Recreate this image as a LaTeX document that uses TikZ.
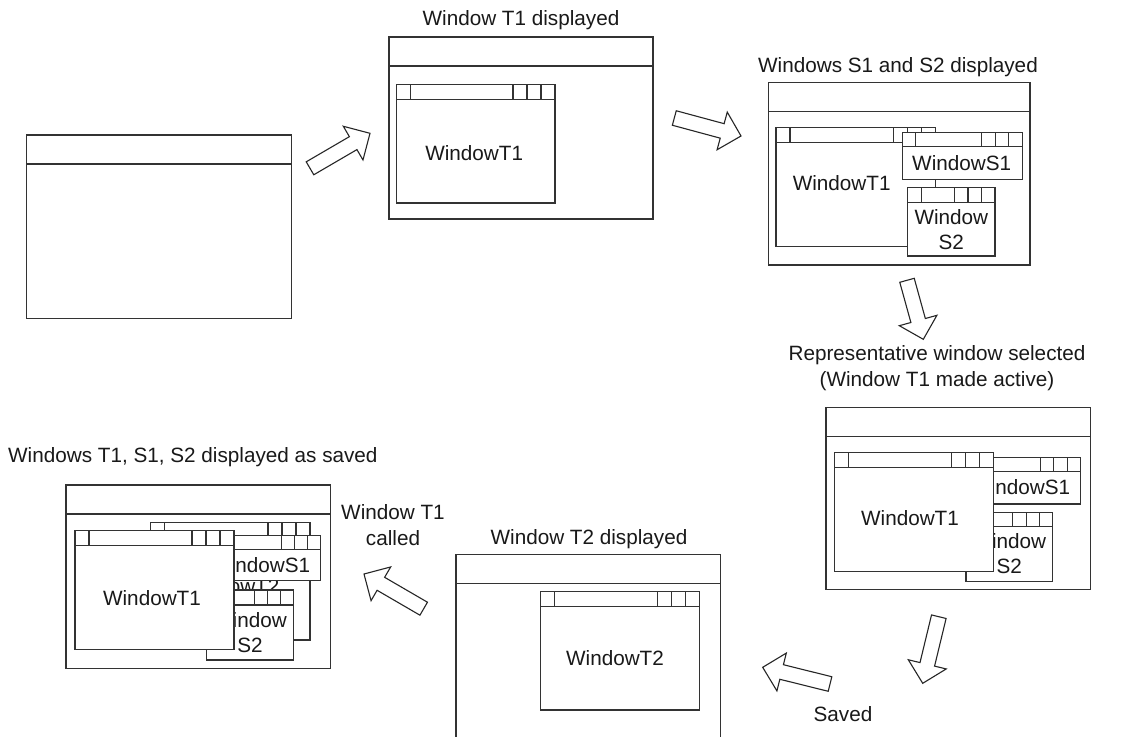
\documentclass[tikz,border=0pt]{standalone}
\usepackage{fontspec}
\setmainfont{Liberation Sans}
\usetikzlibrary{calc}
\tikzset{
  winline/.style={draw=black!80, line width=1.2pt},
  arrowline/.style={draw=black!85, line width=1.1pt, fill=white, line join=miter},
  wtxt/.style={inner sep=0pt, text=black!90, font=\fontsize{20.7}{25}\selectfont, align=center},
  lbl/.style={inner sep=0pt, text=black!90, font=\fontsize{20.7}{26}\selectfont, align=center},
}
% window: x1 y1 x2 y2 titleh boxw
\newcommand\win[6]{%
  \draw[winline, fill=white] (#1,#2) rectangle (#3,#4);
  \draw[winline] (#1,#2+#5) -- (#3,#2+#5)
    (#1+#6,#2) -- (#1+#6,#2+#5)
    (#3-#6,#2) -- (#3-#6,#2+#5)
    (#3-2*#6,#2) -- (#3-2*#6,#2+#5)
    (#3-3*#6,#2) -- (#3-3*#6,#2+#5);
}
% screen: x1 y1 x2 y2
\newcommand\scr[4]{%
  \draw[winline, fill=white] (#1,#2) rectangle (#3,#4);
  \draw[winline] (#1,#2+29) -- (#3,#2+29);
}
% block arrow: name, tail, tip
\newcommand\blockarrow[3]{%
  \coordinate (#1h) at ($(#3)!19.5pt!(#2)$);
  \draw[arrowline] ($(#2)!7.5pt!90:(#3)$) -- ($(#1h)!7.5pt!90:(#3)$) -- ($(#1h)!19.5pt!90:(#3)$)
    -- (#3) -- ($(#1h)!19.5pt!-90:(#3)$) -- ($(#1h)!7.5pt!-90:(#3)$) -- ($(#2)!7.5pt!-90:(#3)$) -- cycle;
}
\begin{document}
\begin{tikzpicture}[x=1pt,y=-1pt]
\useasboundingbox[fill=white] (0,0) rectangle (1121,736);

% ---- screen 0 (empty)
\scr{26.7}{135}{291.7}{318.3}

% ---- screen 1
\scr{389}{37}{653}{219}
\win{396.7}{84.3}{555}{203}{15}{14}
\node[wtxt] (t1a) at (474.2,153.3) {WindowT1};
\node[lbl, anchor=base] (lab1) at (521,25) {Window T1 displayed};

% ---- screen 2
\scr{768.3}{82.3}{1030}{265}
\win{776}{127.3}{935.7}{246.7}{15}{14}
\node[wtxt] (t1b) at (841.7,183.3) {WindowT1};
\win{902.3}{132.7}{1022.3}{179.3}{14}{13.5}
\node[wtxt] (s1b) at (961.7,163.3) {WindowS1};
\win{907.7}{187.3}{995}{256}{15}{13.5}
\node[wtxt] (s2b) at (951.3,229.5) {Window\\S2};
\node[lbl, anchor=base] (lab2) at (898,72) {Windows S1 and S2 displayed};

% ---- screen 3 (representative)
\scr{826}{407.3}{1090.7}{589.3}
\win{960.7}{457.3}{1080.7}{504}{14}{13.5}
\node[wtxt] (s1c) at (1020.7,487.5) {WindowS1};
\win{966}{512.3}{1052.7}{581.3}{14.5}{13.3}
\node[wtxt] (s2c) at (1009.3,553.5) {Window\\S2};
\win{834.3}{452.3}{993.3}{571.7}{15}{14}
\node[wtxt] (t1c) at (910,518.3) {WindowT1};
\node[lbl] (lab3) at (937,368) {Representative window selected\\(Window T1 made active)};

% ---- screen 4 (T2)
\draw[winline, fill=white] (456,740) -- (456,554.3) -- (720.7,554.3) -- (720.7,740);
\draw[winline] (456,583.3) -- (720.7,583.3);
\win{540.7}{591.7}{699.3}{710}{14.5}{14}
\node[wtxt] (t2d) at (615,658.3) {WindowT2};
\node[lbl, anchor=base] (lab4) at (589,544) {Window T2 displayed};

% ---- screen 5 (restored)
\scr{66}{485}{330.7}{668.3}
\win{150.7}{522.3}{310}{640}{15}{14}
\node[wtxt] (t2e) at (230.5,586) {WindowT2};
\win{200.7}{535.7}{320.7}{580.7}{14}{13}
\node[wtxt] (s1e) at (260.7,565.3) {WindowS1};
\win{206.7}{590}{293.3}{660}{15}{13}
\node[wtxt] (s2e) at (250,633) {Window\\S2};
\win{75}{530.7}{234}{649.3}{15}{14}
\node[wtxt] (t1e) at (152,598.3) {WindowT1};
\node[lbl, anchor=base west] (lab5) at (8,462) {Windows T1, S1, S2 displayed as saved};

% ---- other labels
\node[lbl] (lab6) at (393,525) {Window T1\\called};
\node[lbl, anchor=base] (lab7) at (843,721) {Saved};

% ---- arrows
\coordinate (a1s) at (310,168.3);   \coordinate (a1e) at (370,133.3);
\coordinate (a2s) at (674.3,118);   \coordinate (a2e) at (741,136);
\coordinate (a3s) at (907,280.3);   \coordinate (a3e) at (923.3,339.3);
\coordinate (a4s) at (938.8,616.7); \coordinate (a4e) at (922.7,683.3);
\coordinate (a5s) at (830,684);     \coordinate (a5e) at (762.7,667.3);
\coordinate (a6s) at (423.7,608.7); \coordinate (a6e) at (364,574);
\blockarrow{a1}{a1s}{a1e}
\blockarrow{a2}{a2s}{a2e}
\blockarrow{a3}{a3s}{a3e}
\blockarrow{a4}{a4s}{a4e}
\blockarrow{a5}{a5s}{a5e}
\blockarrow{a6}{a6s}{a6e}
\end{tikzpicture}
\end{document}
